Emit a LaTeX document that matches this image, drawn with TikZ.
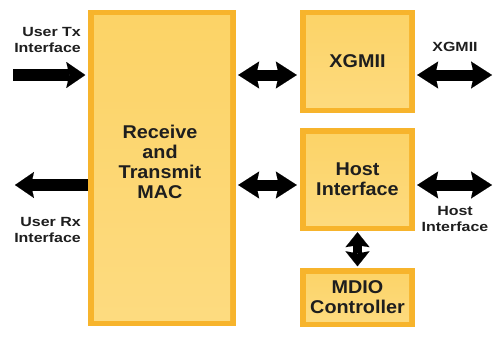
\documentclass[tikz,border=0pt]{standalone}
\usepackage{fontspec}
\usetikzlibrary{arrows.meta,calc}
\newfontfamily\boxfont[FakeStretch=1.07]{Liberation Sans}
\newfontfamily\lblfont[FakeStretch=1.2]{Liberation Sans}
\definecolor{boxborder}{HTML}{F7B42C}
\definecolor{bt}{HTML}{FCD366}
\definecolor{bm}{HTML}{FFEAB2}
\definecolor{bb}{HTML}{FDDB80}
\definecolor{txt}{HTML}{1E1E1E}
\begin{document}
\begin{tikzpicture}[x=1pt,y=-1pt,
  box/.style={rectangle, fill=boxborder, draw=none, inner sep=0pt, align=center,
    font={\boxfont\bfseries\fontsize{18.5}{20}\selectfont}, text=txt,
    path picture={\shade[top color=bt, middle color=bm, bottom color=bb]
      ([shift={(6pt,-6pt)}]path picture bounding box.north west) rectangle
      ([shift={(-6pt,6pt)}]path picture bounding box.south east);}},
  boxtext/.style={inner sep=0pt, align=center, text=txt,
    font={\boxfont\bfseries\fontsize{18.5}{20}\selectfont}},
  lbl/.style={inner sep=0pt, text=txt, font={\lblfont\bfseries\fontsize{13.3}{16.5}\selectfont}},
  arr/.style={line width=11pt, draw=black,
    >={Stealth[length=21pt,width=27pt,inset=3pt,line width=0.1pt]}},
  sarr/.style={line width=12.5pt, draw=black,
    >={Stealth[length=19pt,width=26pt,inset=3pt,line width=0.1pt]}},
  varr/.style={line width=8.5pt, draw=black,
    >={Stealth[length=15pt,width=24pt,inset=2pt,line width=0.1pt]}}
]
\useasboundingbox (0,0) rectangle (500,337);
\fill[white] (0,0) rectangle (500,337);

% boxes
\node[box, minimum width=148pt, minimum height=316pt] (mac) at (162,168) {};
\node[boxtext] (mactext) at (160,161.5) {Receive\\and\\Transmit\\MAC};
\node[box, minimum width=115pt, minimum height=103pt] (xg) at (357.5,61.5) {XGMII};
\node[box, minimum width=115pt, minimum height=103pt] (host) at (357.5,179.5) {Host\\Interface};
\node[box, minimum width=115pt, minimum height=59pt] (mdio) at (357.5,297.5) {MDIO\\Controller};

% labels
\node[lbl, align=right, anchor=east] (txl) at (81,40) {User Tx\\Interface};
\node[lbl, align=right, anchor=east] (rxl) at (81,230) {User Rx\\Interface};
\node[lbl] (xgl) at (455,46.5) {XGMII};
\node[lbl, align=center] (hil) at (455,219) {Host\\Interface};

% connector end points
\coordinate (txs) at (13,75);
\coordinate (rxe) at (15,185);
\coordinate (xgo) at (492,75);
\coordinate (hio) at (492,185);

% arrows
\draw[sarr,->,shorten >=2.5pt] (txs) -- (txs -| mac.west);
\draw[sarr,->] (rxe -| mac.west) -- (rxe);
\draw[arr,<->,shorten <=2pt,shorten >=3pt] (xgo -| mac.east) -- (xgo -| xg.west);
\draw[arr,<->,shorten <=2pt] (xgo -| xg.east) -- (xgo);
\draw[arr,<->,shorten <=2pt,shorten >=3pt] (hio -| mac.east) -- (hio -| host.west);
\draw[arr,<->,shorten <=2pt] (hio -| host.east) -- (hio);
\draw[varr,<->,shorten <=1pt,shorten >=1.5pt] (host.south) -- (mdio.north);
\end{tikzpicture}
\end{document}
